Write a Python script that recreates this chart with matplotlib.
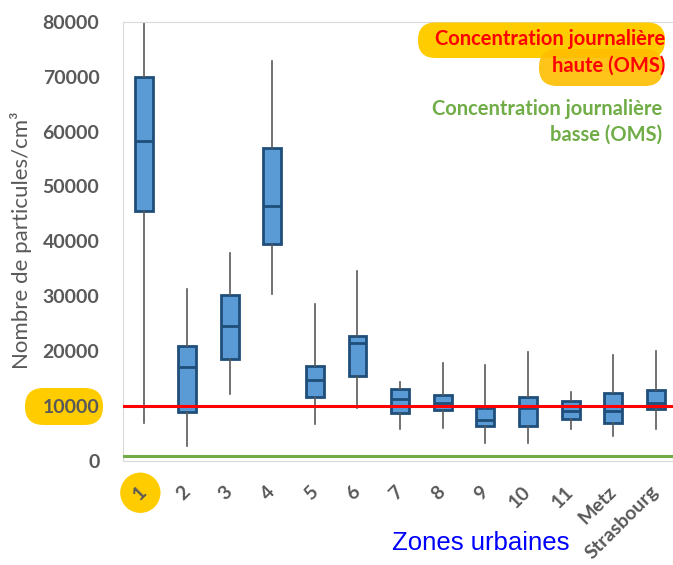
import matplotlib
matplotlib.use("Agg")
import matplotlib.pyplot as plt
from matplotlib.patches import FancyBboxPatch

# zones and box statistics (particules/cm3)
zones = ["1", "2", "3", "4", "5", "6", "7", "8", "9", "10", "11", "Metz", "Strasbourg"]
whis_lo = [6900, 2800, 12200, 30500, 6700, 9650, 5800, 6000, 3200, 3200, 5800, 4600, 5800]
q1 = [45600, 8900, 18500, 39500, 11600, 15500, 8800, 9300, 6400, 6400, 7600, 6900, 9500]
med = [58300, 17100, 24600, 46400, 14800, 21400, 11300, 10600, 7500, 9600, 9100, 9100, 10600]
q3 = [70000, 21000, 30300, 57000, 17300, 22800, 13100, 12100, 9600, 11700, 10900, 12300, 12900]
whis_hi = [80000, 31300, 37800, 72800, 28600, 34600, 14400, 17900, 17500, 19800, 12500, 19300, 20000]

oms_haut = 10000
oms_bas = 1000

gris = "#595959"
jaune = "#FFCC00"

stats = []
for i in range(len(zones)):
    stats.append(dict(label=zones[i], whislo=whis_lo[i], q1=q1[i], med=med[i],
                      q3=q3[i], whishi=whis_hi[i], fliers=[]))

fig = plt.figure(figsize=(6.73, 5.65), dpi=100)
ax = fig.add_axes([123 / 673, 1 - 461 / 565, 1 - 123 / 673, (461 - 21.7) / 565])

pos = list(range(1, len(zones) + 1))
ax.bxp(stats, positions=pos, widths=0.42, patch_artist=True,
       showcaps=False, showfliers=False,
       boxprops=dict(facecolor="#5B9BD5", edgecolor="#1F4E79", linewidth=2),
       medianprops=dict(color="#1F4E79", linewidth=2),
       whiskerprops=dict(color=gris, linewidth=1.2))

ax.axhline(oms_haut, color="red", linewidth=2.2, zorder=5)
ax.axhline(oms_bas, color="#70AD47", linewidth=2.2, zorder=5)

ax.set_xlim(0.5, 13.4)
ax.set_ylim(0, 80000)
ax.set_yticks(range(0, 80001, 10000))
ax.set_yticklabels([str(v) for v in range(0, 80001, 10000)],
                   fontfamily="Lato", fontweight="bold", fontsize=14, color=gris)
ax.set_xticks(pos)
ax.set_xticklabels(zones, rotation=45, ha="right", va="center", rotation_mode="anchor",
                   fontfamily="Lato", fontweight="bold", fontsize=14, color=gris)
ax.tick_params(axis="x", length=0, pad=20)
ax.tick_params(axis="y", length=0, pad=17)

for s in ["left", "top", "bottom"]:
    ax.spines[s].set_color("#D9D9D9")
ax.spines["right"].set_visible(False)

# yellow highlights ("1", "10000" and the red legend text), sizes in inches
ax.get_xticklabels()[0].set_bbox(dict(boxstyle="circle,pad=0.6", fc=jaune, ec="none"))
fig.add_artist(FancyBboxPatch((0.25, 1.40), 0.78, 0.37, boxstyle="round,pad=0,rounding_size=0.185",
                              fc=jaune, ec="none", transform=fig.dpi_scale_trans, zorder=-1))
fig.add_artist(FancyBboxPatch((4.18, 5.07), 2.47, 0.355, boxstyle="round,pad=0,rounding_size=0.175",
                              fc=jaune, ec="none", transform=fig.dpi_scale_trans, zorder=1))
fig.add_artist(FancyBboxPatch((5.39, 4.79), 1.24, 0.37, boxstyle="round,pad=0,rounding_size=0.18",
                              fc="#FFBE00", ec="none", alpha=0.9, transform=fig.dpi_scale_trans, zorder=1))

fig.text(0.031, 1 - 240 / 565, "Nombre de particules/cm³", rotation=90, ha="center", va="center",
         fontfamily="Lato", fontsize=16, color=gris)
fig.text(481 / 673, 1 - 543 / 565, "Zones urbaines", ha="center", va="center",
         fontfamily="Liberation Sans", fontsize=18.5, color="#0000FF")

fig.text(665 / 673, 1 - 39 / 565, "Concentration journalière", ha="right", va="center",
         fontfamily="Lato", fontweight="bold", fontsize=14.5, color="red")
fig.text(665 / 673, 1 - 66 / 565, "haute (OMS)", ha="right", va="center",
         fontfamily="Lato", fontweight="bold", fontsize=14.5, color="red")
fig.text(662 / 673, 1 - 121.5 / 565, "Concentration journalière\nbasse (OMS)", ha="right", va="center",
         multialignment="right", linespacing=1.35,
         fontfamily="Lato", fontweight="bold", fontsize=14.5, color="#70AD47")

fig.savefig("out.png", dpi=100)
